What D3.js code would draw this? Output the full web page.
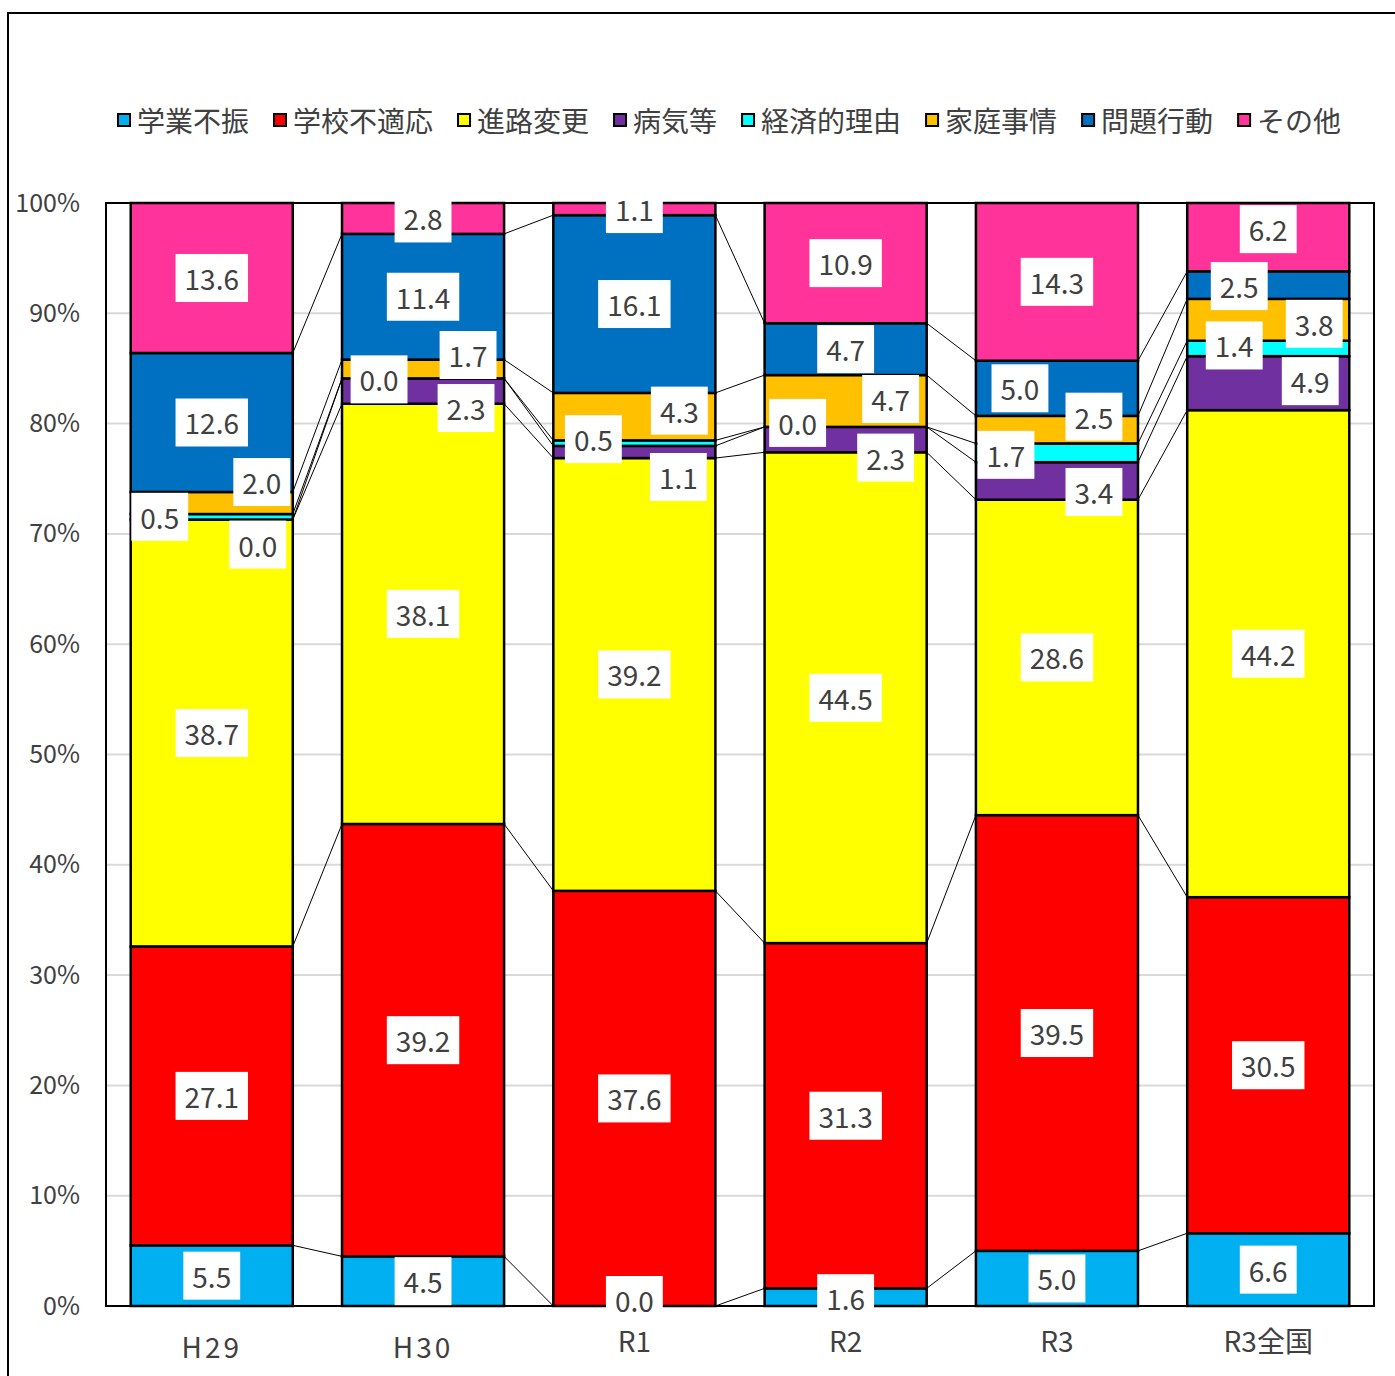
<!DOCTYPE html>
<html><head><meta charset="utf-8">
<script src="https://cdn.jsdelivr.net/npm/d3@7"></script>
<style>
html,body{margin:0;padding:0;background:#fff;}
svg{display:block;}
text{font-family:"Noto Sans CJK JP","Noto Sans",sans-serif;}
</style></head>
<body>
<svg id="chart" width="1395" height="1376"></svg>
<script>
// ---- data ----
const categories = ["H29", "H30", "R1", "R2", "R3", "R3全国"];
const seriesNames = ["学業不振", "学校不適応", "進路変更", "病気等", "経済的理由", "家庭事情", "問題行動", "その他"];
const s学業不振   = [5.5, 4.5, 0.0, 1.6, 5.0, 6.6];
const s学校不適応 = [27.1, 39.2, 37.6, 31.3, 39.5, 30.5];
const s進路変更   = [38.7, 38.1, 39.2, 44.5, 28.6, 44.2];
const s病気等     = [0.0, 2.3, 1.1, 2.3, 3.4, 4.9];
const s経済的理由 = [0.5, 0.0, 0.5, 0.0, 1.7, 1.4];
const s家庭事情   = [2.0, 1.7, 4.3, 4.7, 2.5, 3.8];
const s問題行動   = [12.6, 11.4, 16.1, 4.7, 5.0, 2.5];
const sその他     = [13.6, 2.8, 1.1, 10.9, 14.3, 6.2];
const seriesValues = [s学業不振, s学校不適応, s進路変更, s病気等, s経済的理由, s家庭事情, s問題行動, sその他];
const yTicks = [0, 10, 20, 30, 40, 50, 60, 70, 80, 90, 100];

// ---- styles / layout ----
const colors = ["#00b0f0", "#ff0000", "#ffff00", "#7030a0", "#00ffff", "#ffc000", "#0070c0", "#ff3399"];
// manual label offsets (px) from segment centre, per category, per series
const labelOffsets = [
  [[0,0],[0,0],[0,0],[46,25],[-52,0],[50,-21],[0,0],[0,0]],
  [[0,0],[0,0],[0,0],[43,17],[-44,1],[45,-14],[0,0],[0,0]],
  [[0,-6],[0,0],[0,0],[44,25],[-41,-4],[45,-6],[0,0],[0,0]],
  [[0,1],[0,0],[0,0],[40,18],[-48,-4],[45,-2],[0,0],[0,0]],
  [[0,0],[0,0],[0,0],[37,11],[-51,2],[37,-13],[-37,0],[0,0]],
  [[0,0],[0,0],[0,0],[42,-2],[-34,-3],[46,4],[-29,1],[0,-8]]
];

const svg = d3.select("#chart");
const plot = {x0: 106, x1: 1374, y0: 203, y1: 1306};

// outer frame
svg.append("rect").attr("x", 8).attr("y", 13).attr("width", 1420).attr("height", 1400)
  .attr("fill", "none").attr("stroke", "#000").attr("stroke-width", 2);

const x = d3.scaleBand().domain(categories).range([plot.x0, plot.x1]).paddingInner(0.233).paddingOuter(0.117);
const y = d3.scaleLinear().domain([0, 100]).range([plot.y1, plot.y0]);
const bw = x.bandwidth();

// gridlines
svg.append("g").selectAll("line").data(yTicks.slice(1, -1)).join("line")
  .attr("x1", plot.x0).attr("x2", plot.x1)
  .attr("y1", d => y(d)).attr("y2", d => y(d))
  .attr("stroke", "#d9d9d9").attr("stroke-width", 2);

// stacked data, normalised to 100%
const rows = categories.map((c, i) => {
  const r = {cat: c};
  seriesNames.forEach((s, k) => r[s] = seriesValues[k][i]);
  return r;
});
const stack = d3.stack().keys(seriesNames).offset(d3.stackOffsetExpand);
const stacked = stack(rows);

// series connector lines
const gLines = svg.append("g");
stacked.forEach((layer, k) => {
  for (let i = 0; i < categories.length - 1; i++) {
    gLines.append("line")
      .attr("x1", x(categories[i]) + bw).attr("y1", y(layer[i][1] * 100))
      .attr("x2", x(categories[i + 1])).attr("y2", y(layer[i + 1][1] * 100))
      .attr("stroke", "#000").attr("stroke-width", 1);
  }
});

// bars
const gBars = svg.append("g");
stacked.forEach((layer, k) => {
  gBars.append("g").selectAll("rect").data(layer).join("rect")
    .attr("x", d => x(d.data.cat))
    .attr("width", bw)
    .attr("y", d => y(d[1] * 100))
    .attr("height", d => y(d[0] * 100) - y(d[1] * 100))
    .attr("fill", colors[k])
    .attr("stroke", "#000").attr("stroke-width", 2.5);
});

// plot border
svg.append("rect").attr("x", plot.x0).attr("y", plot.y0)
  .attr("width", plot.x1 - plot.x0).attr("height", plot.y1 - plot.y0)
  .attr("fill", "none").attr("stroke", "#000").attr("stroke-width", 2);

// y axis
const yAxis = svg.append("g").attr("transform", `translate(${plot.x0},0)`)
  .call(d3.axisLeft(y).tickValues(yTicks).tickFormat(d => d + "%").tickSize(0).tickPadding(26));
yAxis.select(".domain").remove();
yAxis.selectAll("text").attr("font-size", 25).attr("fill", "#404040")
  .attr("font-family", '"Noto Sans CJK JP",sans-serif');

// data labels
const gLab = svg.append("g");
stacked.forEach((layer, k) => {
  layer.forEach((d, i) => {
    const cx = x(d.data.cat) + bw / 2 + labelOffsets[i][k][0];
    const cy = y((d[0] + d[1]) / 2 * 100) + labelOffsets[i][k][1];
    const g = gLab.append("g");
    const rect = g.append("rect").attr("fill", "#fff");
    const t = g.append("text").attr("x", cx).attr("y", cy)
      .attr("text-anchor", "middle").attr("dominant-baseline", "central")
      .attr("font-size", 28).attr("fill", "#404040")
      .text(seriesValues[k][i].toFixed(1));
    const w = t.node().getComputedTextLength() + 18;
    rect.attr("x", cx - w / 2).attr("y", cy - 24).attr("width", w).attr("height", 48);
  });
});

// x axis (drawn after labels so it stays readable)
const xAxis = svg.append("g").attr("transform", `translate(0,${plot.y1})`)
  .call(d3.axisBottom(x).tickSize(0).tickPadding(26));
xAxis.select(".domain").remove();
xAxis.selectAll("text").attr("font-size", 28).attr("fill", "#404040")
  .attr("font-family", '"Noto Sans CJK JP",sans-serif')
  .attr("letter-spacing", d => d.startsWith("H") ? 3 : 0)
  .attr("dy", d => d.startsWith("H") ? "0.93em" : "0.73em");

// legend
const gLeg = svg.append("g");
let lx = 118;
const ly = 120;
seriesNames.forEach((s, k) => {
  gLeg.append("rect").attr("x", lx).attr("y", ly - 6).attr("width", 12).attr("height", 12)
    .attr("fill", colors[k]).attr("stroke", "#000").attr("stroke-width", 2);
  const t = gLeg.append("text").attr("x", lx + 19).attr("y", ly)
    .attr("dominant-baseline", "central").attr("font-size", 28).attr("fill", "#404040").text(s);
  lx += 19 + t.node().getComputedTextLength() + 25;
});
</script>
</body></html>
